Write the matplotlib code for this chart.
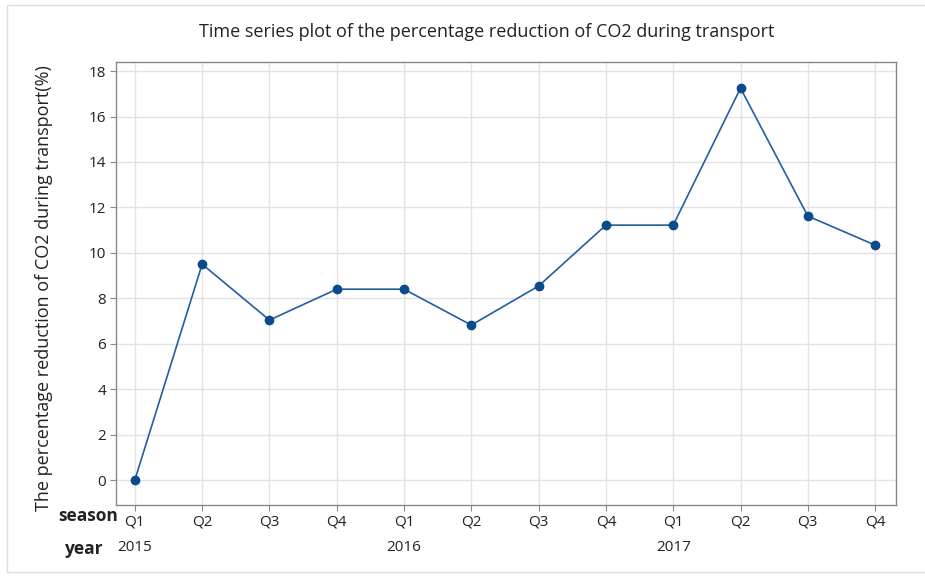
import matplotlib.pyplot as plt
from matplotlib.patches import Rectangle

seasons = ["Q1", "Q2", "Q3", "Q4", "Q1", "Q2", "Q3", "Q4", "Q1", "Q2", "Q3", "Q4"]
years = ["2015", "2016", "2017"]
year_pos = [0, 4, 8]
values = [0.0, 9.5, 7.04, 8.4, 8.4, 6.82, 8.54, 11.22, 11.22, 17.25, 11.62, 10.34]
yticks = [0, 2, 4, 6, 8, 10, 12, 14, 16, 18]

plt.rcParams['font.family'] = ['Open Sans', 'DejaVu Sans']

fig = plt.figure(figsize=(9.25, 5.77), dpi=100)
ax = fig.add_axes([0.1254, 0.1248, 0.8432, 0.7677])

x = list(range(len(values)))
ax.plot(x, values, color='#1f5fa0', lw=1.2, marker='o', ms=6,
        markerfacecolor='#0d4a8c', markeredgecolor='#0d4a8c', zorder=3)

ax.set_xlim(-0.28, 11.31)
ax.set_ylim(-1.1, 18.4)
ax.set_xticks(x)
ax.set_xticklabels(seasons, fontsize=11, color='#222222')
ax.set_yticks(yticks)
ax.set_yticklabels([str(t) for t in yticks], fontsize=11, color='#222222')
ax.grid(True, color='#e3e3e3', lw=1)
ax.set_axisbelow(True)
for s in ax.spines.values():
    s.set_color('#888888')
    s.set_linewidth(1)
ax.tick_params(axis='both', direction='out', length=4, color='#888888', pad=3)

for yp, yl in zip(year_pos, years):
    ax.text(yp, -0.097, yl, transform=ax.get_xaxis_transform(), ha='center', va='center',
            fontsize=11, color='#222222')

fig.text(118 / 925, 1 - 516 / 577, 'season', ha='right', va='center', fontsize=12.5,
         fontweight='bold', color='#222222')
fig.text(104 / 925, 1 - 549 / 577, 'year', ha='right', va='center', fontsize=12.5,
         fontweight='bold', color='#222222')

fig.text(44 / 925, 1 - 288 / 577, 'The percentage reduction of CO2 during transport(%)',
         rotation=90, ha='center', va='center', fontsize=13, color='#222222')

fig.text(487 / 925, 1 - 32 / 577, 'Time series plot of the percentage reduction of CO2 during transport',
         ha='center', va='center', fontsize=13, color='#222222')

fig.patches.append(Rectangle((7 / 925, 5 / 577), 1.0, 1 - 10 / 577,
                             transform=fig.transFigure, fill=False, edgecolor='#dddddd', lw=1))

fig.savefig('out.png', dpi=100)
